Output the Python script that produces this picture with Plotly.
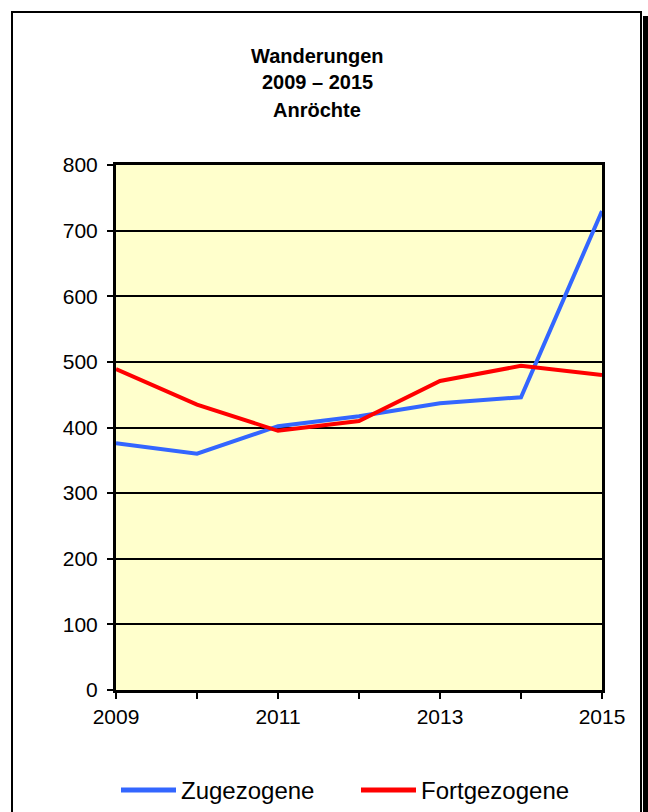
import plotly.graph_objects as go

years = [2009, 2010, 2011, 2012, 2013, 2014, 2015]
zugezogene = [376, 360, 402, 417, 437, 446, 730]
fortgezogene = [489, 435, 395, 410, 471, 494, 480]
tick_years = [2009, 2010, 2011, 2012, 2013, 2014, 2015]
tick_text = ["2009", "", "2011", "", "2013", "", "2015"]
title_lines = ["Wanderungen", "2009 \u2013 2015", "Anröchte"]
series_names = ["Zugezogene", "Fortgezogene"]
series_colors = ["#3366FF", "#FF0000"]

W, H = 648, 812
L, R, T, B = 116, 46, 165, 122
PW, PH = W - L - R, H - T - B


def px(x):
    return (x - L) / PW


def py(y):
    return (H - B - y) / PH


FONT = "Liberation Sans, Arial, sans-serif"

fig = go.Figure()
for name, vals, col in zip(series_names, [zugezogene, fortgezogene], series_colors):
    fig.add_trace(go.Scatter(x=years, y=vals, mode="lines", name=name,
                             line=dict(color=col, width=4), showlegend=False,
                             hoverinfo="skip"))

shapes = [
    # outer frame
    dict(type="rect", xref="paper", yref="paper", x0=px(12), x1=px(641), y0=py(830), y1=py(12),
         line=dict(color="black", width=2), fillcolor="rgba(0,0,0,0)", layer="below"),
    # shadow
    dict(type="rect", xref="paper", yref="paper", x0=px(643), x1=px(649), y0=py(830), y1=py(16),
         line=dict(width=0), fillcolor="black", layer="below"),
]
legend_items = [(121, 176, 179), (361, 416, 419)]
annotations = []
for (x0, x1, tx), name, col in zip(legend_items, series_names, series_colors):
    shapes.append(dict(type="line", xref="paper", yref="paper", x0=px(x0), x1=px(x1),
                       y0=py(790), y1=py(790), line=dict(color=col, width=5)))
    annotations.append(dict(xref="paper", yref="paper", x=px(tx), y=py(790), text=name,
                            showarrow=False, xanchor="left", yanchor="middle",
                            font=dict(family=FONT, size=24, color="black")))

for txt, yy in zip(title_lines, [56, 82, 110]):
    annotations.append(dict(xref="paper", yref="paper", x=px(317), y=py(yy), text="<b>%s</b>" % txt,
                            showarrow=False, xanchor="center", yanchor="middle",
                            font=dict(family=FONT, size=20, color="black")))

fig.update_layout(
    width=W, height=H,
    margin=dict(l=L, r=R, t=T, b=B, pad=0),
    paper_bgcolor="white", plot_bgcolor="#FFFFCC",
    font=dict(family=FONT, size=21, color="black"),
    shapes=shapes, annotations=annotations,
    xaxis=dict(range=[2009, 2015], tickvals=tick_years, ticktext=tick_text,
               ticks="outside", ticklen=6, tickwidth=2, tickcolor="black",
               showgrid=False, zeroline=False, showline=True, linecolor="black",
               linewidth=3, mirror=True, tickfont=dict(size=21)),
    yaxis=dict(range=[0, 800], dtick=100, ticks="outside", ticklen=6, tickwidth=2,
               tickcolor="black", showgrid=True, gridcolor="black", gridwidth=2,
               zeroline=False, showline=True, linecolor="black", linewidth=3,
               mirror=True, tickfont=dict(size=21), ticklabelstandoff=5),
)

fig.write_html("out.html", config={"displayModeBar": False},
               post_script="document.body.style.margin='0px';document.body.style.overflow='hidden';")
